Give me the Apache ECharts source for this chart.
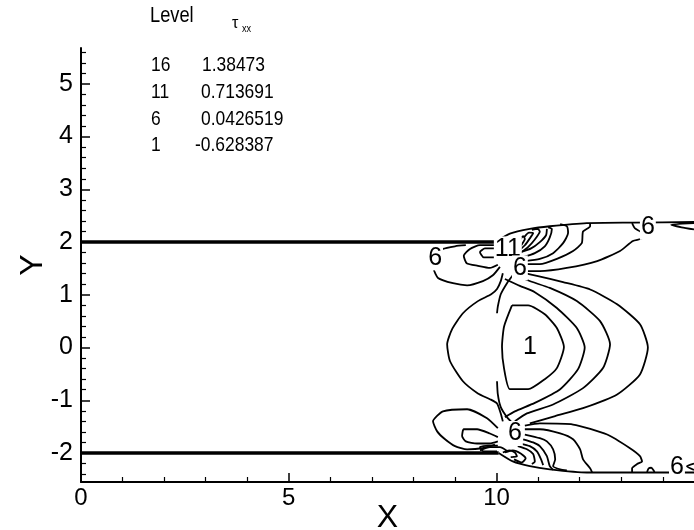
<!DOCTYPE html>
<html><head><meta charset="utf-8">
<script src="https://cdn.jsdelivr.net/npm/echarts@6/dist/echarts.min.js"></script>
<style>html,body{margin:0;padding:0;background:#fff}#c{width:694px;height:530px}</style>
</head><body><div id="c"></div>
<script>
const FONT = "'Liberation Sans',Arial,sans-serif";

// ---- axis ticks / legend ----
const xTickLabels = [0, 5, 10];
const xMinorTicks = [1, 2, 3, 4, 6, 7, 8, 9, 11, 12, 13, 14];
const yTickLabels = [-2, -1, 0, 1, 2, 3, 4, 5];
const yMinorTicks = [-2.4, -2.2, -1.8, -1.6, -1.4, -1.2, -0.8, -0.6, -0.4, -0.2, 0.2, 0.4, 0.6, 0.8,
  1.2, 1.4, 1.6, 1.8, 2.2, 2.4, 2.6, 2.8, 3.2, 3.4, 3.6, 3.8, 4.2, 4.4, 4.6, 4.8, 5.2, 5.4, 5.6];
const legendLevels = ['16', '11', '6', '1'];
const legendValues = ['1.38473', '0.713691', '0.0426519', '-0.628387'];

// ---- channel walls ----
const wallUpper = [[0, 2], [10, 2]];
const wallLower = [[0, -2], [10.05, -2]];

// ---- contour lines (x, y) ----
const boundaryUpper = [[9.97,2.0],[10.32,2.16],[10.8,2.25],[11.28,2.30],[12.17,2.36],[13.28,2.37],[14.75,2.38]];
const boundaryLower = [[10.05,-2.0],[10.39,-2.16],[10.8,-2.25],[11.28,-2.31],[12.17,-2.37],[14.75,-2.37]];
const wedgeTop = [[14.75,2.36],[14.2,2.33],[14.45,2.28],[14.75,2.24]];
const wedgeBottom = [[14.75,-2.2],[14.58,-2.25],[14.75,-2.32]];
const loopBottomRight = [[13.62,-2.36],[13.66,-2.29],[13.72,-2.28],[13.78,-2.33],[13.80,-2.37]];
const contourD = [[10.37,0.80],[10.76,0.80],[11.16,0.63],[11.45,0.37],[11.62,0.01],[11.45,-0.39],[11.16,-0.60],[10.76,-0.79],[10.32,-0.79],[10.18,-0.40],[10.13,0.01],[10.18,0.40],[10.37,0.80]];
const arcA = [[10.20,1.30],[10.56,1.17],[10.92,1.05],[11.45,0.75],[11.93,0.37],[12.12,0.0],[11.96,-0.41],[11.53,-0.79],[10.92,-1.05],[10.44,-1.21],[10.20,-1.32]];
const arcB = [[10.44,1.41],[10.73,1.28],[11.28,1.13],[11.93,0.88],[12.49,0.50],[12.73,0.06],[12.56,-0.39],[12.08,-0.77],[11.36,-1.08],[10.73,-1.25],[10.44,-1.40]];
const arcC = [[10.68,1.41],[10.97,1.36],[11.60,1.24],[12.25,1.10],[12.90,0.82],[13.45,0.44],[13.64,0.0],[13.45,-0.51],[12.90,-0.89],[12.08,-1.15],[11.41,-1.30],[10.80,-1.44]];
const arcLeft = [[10.15,1.41],[10.10,1.26],[10.01,1.11],[9.87,1.01],[9.55,0.88],[9.19,0.65],[8.93,0.35],[8.81,0.06],[8.88,-0.26],[9.19,-0.64],[9.55,-0.87],[9.84,-0.98],[10.01,-1.06],[10.10,-1.25],[10.15,-1.40]];
const stemTop = [[10.39,1.37],[10.25,1.22],[10.10,1.01],[10.03,0.78],[10.01,0.65]];
const stemBottom = [[10.01,-0.64],[10.03,-0.89],[10.10,-1.13],[10.25,-1.32],[10.39,-1.44]];
const upperOuter = [[10.08,1.53],[9.91,1.37],[9.67,1.26],[9.29,1.18],[8.95,1.22],[8.59,1.32],[8.49,1.49],[8.52,1.74],[8.71,1.87],[9.00,1.92],[9.26,1.94]];
const upperInner = [[9.96,1.94],[9.60,1.94],[9.36,1.87],[9.21,1.74],[9.28,1.60],[9.55,1.55],[9.84,1.51],[10.03,1.57]];
const upperSmall = [[9.96,1.88],[9.72,1.88],[9.60,1.81],[9.69,1.71],[9.96,1.71]];
const fanTop1 = [[10.66,1.72],[10.92,1.79],[11.16,1.92],[11.28,2.09],[11.33,2.25],[11.24,2.28]];
const fanTop2 = [[10.68,1.64],[11.04,1.68],[11.36,1.79],[11.60,1.98],[11.72,2.17],[11.69,2.30],[11.53,2.34]];
const fanTop3 = [[10.73,1.58],[11.04,1.58],[11.45,1.68],[11.84,1.83],[12.05,1.98],[12.08,2.20],[12.25,2.30],[12.25,2.36]];
const fanTop4 = [[10.75,1.45],[11.04,1.45],[11.69,1.51],[12.42,1.64],[12.97,1.83],[13.28,2.02],[13.50,2.07],[13.50,2.17],[13.33,2.26],[13.26,2.36]];
const clusterTop1 = [[10.56,1.79],[10.75,1.90],[10.92,2.05],[11.04,2.20],[10.99,2.25],[10.85,2.23]];
const clusterTop2 = [[10.53,1.83],[10.68,1.94],[10.80,2.07],[10.88,2.17],[10.78,2.18],[10.66,2.09]];
const clusterTop3 = [[10.51,1.85],[10.61,1.96],[10.68,2.06],[10.64,2.11],[10.56,2.04]];
const clusterTop4 = [[10.58,1.81],[10.83,1.88],[11.04,2.00],[11.19,2.13],[11.21,2.25]];
const lowerOuter = [[10.03,-1.53],[9.77,-1.34],[9.29,-1.17],[8.71,-1.21],[8.47,-1.40],[8.57,-1.59],[8.76,-1.74],[9.00,-1.87],[9.29,-1.93],[9.65,-1.91],[9.96,-1.84]];
const lowerInner = [[10.03,-1.70],[9.84,-1.63],[9.53,-1.55],[9.21,-1.55],[9.17,-1.68],[9.26,-1.78],[9.53,-1.82],[9.84,-1.82],[10.03,-1.78]];
const lowerSmall = [[10.03,-1.86],[9.79,-1.86],[9.60,-1.89],[9.69,-1.97],[10.01,-1.97]];
const lowerLeftWall = [[9.60,-1.95],[9.84,-1.89],[10.08,-1.89],[10.27,-1.97]];
const fanBot1 = [[10.68,-1.48],[11.04,-1.44],[11.84,-1.46],[12.66,-1.65],[13.21,-1.91],[13.45,-2.06],[13.50,-2.16],[13.38,-2.21],[13.26,-2.29],[13.26,-2.37]];
const fanBot2 = [[10.68,-1.55],[11.04,-1.55],[11.53,-1.63],[11.84,-1.74],[12.01,-1.93],[12.08,-2.12],[12.25,-2.29],[12.30,-2.37]];
const fanBot3 = [[10.68,-1.65],[11.04,-1.72],[11.21,-1.78],[11.36,-1.93],[11.41,-2.12],[11.36,-2.25],[11.53,-2.31],[11.69,-2.33]];
const fanBot4 = [[10.64,-1.74],[10.88,-1.80],[11.04,-1.87],[11.21,-2.06],[11.28,-2.25],[11.36,-2.32]];
const fanBot5 = [[10.56,-1.82],[10.80,-1.87],[10.97,-1.97],[11.07,-2.12],[11.12,-2.23]];
const fanBot6 = [[10.51,-1.87],[10.73,-1.93],[10.88,-2.02],[10.92,-2.16],[10.85,-2.21]];
const clusterBot1 = [[10.20,-1.99],[10.39,-1.95],[10.58,-2.01],[10.70,-2.10],[10.61,-2.18],[10.42,-2.12]];
const clusterBot2 = [[10.15,-1.99],[10.30,-1.95],[10.44,-1.99],[10.49,-2.06],[10.34,-2.08]];

// ---- contour level labels ----
const labelText = ['6', '11', '6', '1', '6', '6', '6'];
const labelX = [8.52, 10.27, 10.56, 10.80, 10.44, 13.64, 14.34];
const labelY = [1.70, 1.87, 1.51, 0.0, -1.63, 2.28, -2.27];

const thinLines = [boundaryUpper, boundaryLower, wedgeTop, wedgeBottom, loopBottomRight, contourD, arcA, arcB, arcC, arcLeft,
  stemTop, stemBottom, upperOuter, upperInner, upperSmall, fanTop1, fanTop2, fanTop3, fanTop4,
  clusterTop1, clusterTop2, clusterTop3, clusterTop4, lowerOuter, lowerInner, lowerSmall, lowerLeftWall,
  fanBot1, fanBot2, fanBot3, fanBot4, fanBot5, fanBot6, clusterBot1, clusterBot2];

const series = [];
[wallUpper, wallLower].forEach(d => series.push({type:'line', data:d, showSymbol:false, silent:true,
  lineStyle:{color:'#000', width:3.6}, z:3}));
thinLines.forEach(d => series.push({type:'line', data:d, showSymbol:false, silent:true, smooth:0.2,
  lineStyle:{color:'#000', width:1.8}, z:2}));
series.push({type:'scatter', symbolSize:0, silent:true, z:10,
  itemStyle:{opacity:1},
  data: labelText.map((t, i) => [labelX[i], labelY[i], t]),
  label:{show:true, position:'inside', formatter:p => p.value[2], color:'#000', opacity:1, fontSize:25, fontFamily:FONT,
    textBorderWidth:0, backgroundColor:'#fff', padding:[0,1,0,1]}});

const chart = echarts.init(document.getElementById('c'));
const SX = 0.83;
const graphics = [
  {type:'text', x:150, y:16, scaleX:SX, style:{text:'Level', fontSize:22, fontFamily:FONT, fill:'#000', verticalAlign:'middle'}},
  {type:'text', x:232, y:24, style:{text:'τ', fontSize:16, fontFamily:FONT, fill:'#000', verticalAlign:'middle'}},
  {type:'text', x:242, y:28.5, scaleX:SX, style:{text:'xx', fontSize:11, fontFamily:FONT, fill:'#000', verticalAlign:'middle'}}
];
const rowY = [65.5, 92.5, 119.5, 145.5];
const valX = [202, 201, 201, 195];
legendLevels.forEach((lv, i) => {
  graphics.push({type:'text', x:151, y:rowY[i], scaleX:SX, style:{text:lv, fontSize:21, fontFamily:FONT, fill:'#000', verticalAlign:'middle'}});
  graphics.push({type:'text', x:valX[i], y:rowY[i], scaleX:SX, style:{text:legendValues[i], fontSize:21, fontFamily:FONT, fill:'#000', verticalAlign:'middle'}});
});

chart.setOption({
  animation:false,
  backgroundColor:'#fff',
  grid:{left:81, right:0, top:48, bottom:48, containLabel:false, outerBoundsMode:'none'},
  xAxis:[
    {type:'value', min:0, max:14.75, position:'bottom',
     axisLine:{show:true, onZero:false, lineStyle:{color:'#000', width:2}},
     axisTick:{show:true, inside:true, length:9, customValues:xTickLabels, lineStyle:{color:'#000', width:1.5}},
     axisLabel:{fontSize:24, fontFamily:FONT, color:'#000', margin:4, customValues:xTickLabels,
       formatter: v => String(Math.round(v))},
     splitLine:{show:false},
     name:'X', nameLocation:'middle', nameGap:20, nameMoveOverlap:false,
     nameTextStyle:{fontSize:32, fontFamily:FONT, color:'#000'}},
    {type:'value', min:0, max:14.75, position:'bottom',
     axisLine:{show:false, onZero:false},
     axisTick:{show:true, inside:true, length:5, customValues:xMinorTicks, lineStyle:{color:'#000', width:1.2}},
     axisLabel:{show:false}, splitLine:{show:false}}
  ],
  yAxis:[
    {type:'value', min:-2.55, max:5.68, position:'left',
     axisLine:{show:true, onZero:false, lineStyle:{color:'#000', width:2}},
     axisTick:{show:true, inside:true, length:9, customValues:yTickLabels, lineStyle:{color:'#000', width:1.5}},
     axisLabel:{fontSize:25, fontFamily:FONT, color:'#000', margin:8, customValues:yTickLabels,
       formatter: v => String(Math.round(v))},
     splitLine:{show:false},
     name:'Y', nameLocation:'middle', nameGap:32, nameMoveOverlap:false,
     nameTextStyle:{fontSize:32, fontFamily:FONT, color:'#000'}},
    {type:'value', min:-2.55, max:5.68, position:'left',
     axisLine:{show:false, onZero:false},
     axisTick:{show:true, inside:true, length:5, customValues:yMinorTicks, lineStyle:{color:'#000', width:1.2}},
     axisLabel:{show:false}, splitLine:{show:false}}
  ],
  graphic: graphics,
  series: series
});
</script></body></html>
